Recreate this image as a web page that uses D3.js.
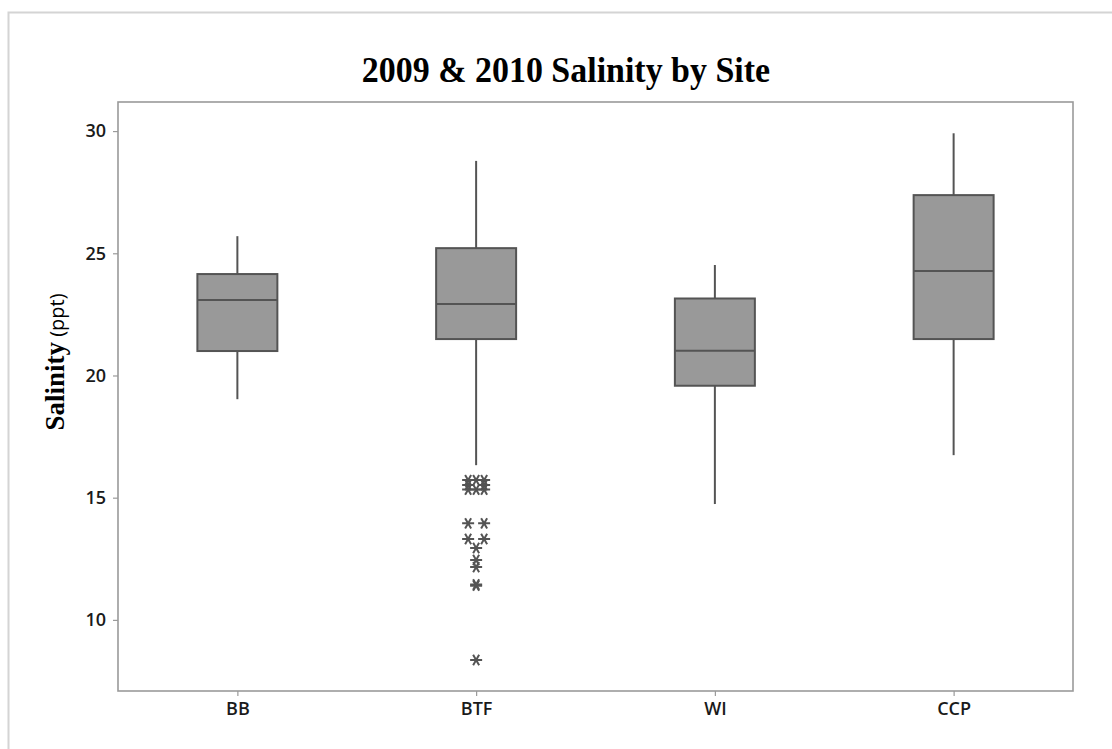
<!DOCTYPE html>
<html>
<head>
<meta charset="utf-8">
<script src="https://cdn.jsdelivr.net/npm/d3@7"></script>
<style>
  html, body { margin: 0; padding: 0; background: #fff; }
  svg { display: block; }
</style>
</head>
<body>
<svg id="chart" width="1112" height="749"></svg>
<script>
// ---- data ----
const sites = ["BB", "BTF", "WI", "CCP"];
const whiskerLow = [19.03, 16.33, 14.74, 16.74];
const q1 = [21.0, 21.49, 19.58, 21.49];
const median = [23.09, 22.92, 21.01, 24.27];
const q3 = [24.15, 25.21, 23.15, 27.38];
const whiskerHigh = [25.70, 28.78, 24.52, 29.91];
const btfOutliers = [15.72, 15.72, 15.72, 15.52, 15.52, 15.33, 15.33, 15.33,
                     13.95, 13.95, 13.31, 13.31, 12.94, 12.45, 12.16, 11.45, 11.40, 8.36];
const yTicks = [10, 15, 20, 25, 30];
const titleText = "2009 & 2010 Salinity by Site";

(function () {
// ---- layout ----
const svg = d3.select("#chart");
const pL = 118, pR = 1073, pT = 102, pB = 691;

const x = d3.scalePoint().domain(sites).range([pL, pR]).padding(0.5);
const y = d3.scaleLinear().domain([7.09, 31.19]).range([pB, pT]);

const dark = "#545454";
const boxFill = "#999999";
const tickFont = "'Open Sans', 'Noto Sans', sans-serif";

// outer frame
svg.append("path")
  .attr("d", `M8.5,749 L8.5,12.5 L1112,12.5`)
  .attr("fill", "none").attr("stroke", "#d4d4d4").attr("stroke-width", 2);

// title
svg.append("text")
  .attr("transform", "translate(566,82) scale(0.97,1)")
  .attr("text-anchor", "middle")
  .attr("font-family", "'Liberation Serif', 'Times New Roman', serif")
  .attr("font-weight", "bold")
  .attr("font-size", 35)
  .attr("fill", "#000")
  .text(titleText);

// plot frame
svg.append("rect")
  .attr("x", pL).attr("y", pT)
  .attr("width", pR - pL).attr("height", pB - pT)
  .attr("fill", "none").attr("stroke", "#9a9a9a").attr("stroke-width", 1.6);

// axes
const yAxis = d3.axisLeft(y).tickValues(yTicks).tickSize(5).tickPadding(7).tickFormat(d3.format("d"));
const gy = svg.append("g").attr("transform", `translate(${pL},0)`).call(yAxis);
gy.select(".domain").remove();
gy.selectAll(".tick line").attr("stroke", "#9a9a9a").attr("stroke-width", 1.2);
gy.selectAll(".tick text")
  .attr("font-family", tickFont)
  .attr("font-weight", 600).attr("font-size", 18).attr("fill", "#1a1a1a");

const xAxis = d3.axisBottom(x).tickSize(5).tickPadding(6);
const gx = svg.append("g").attr("transform", `translate(0,${pB})`).call(xAxis);
gx.select(".domain").remove();
gx.selectAll(".tick line").attr("stroke", "#9a9a9a").attr("stroke-width", 1.2);
gx.selectAll(".tick text")
  .attr("font-family", tickFont)
  .attr("font-weight", 600).attr("font-size", 18).attr("fill", "#1a1a1a");

// y label
const yl = svg.append("text")
  .attr("transform", `translate(64,362) rotate(-90)`)
  .attr("text-anchor", "middle");
yl.append("tspan")
  .attr("font-family", "'Liberation Serif', 'Times New Roman', serif")
  .attr("font-weight", "bold").attr("font-size", 27).attr("fill", "#000")
  .text("Salinity");
yl.append("tspan")
  .attr("font-family", tickFont)
  .attr("font-size", 20).attr("fill", "#000")
  .text(" (ppt)");

// boxes
const bw = x.step() * 0.335;
const boxes = sites.map((s, i) => ({ s, lo: whiskerLow[i], q1: q1[i], med: median[i], q3: q3[i], hi: whiskerHigh[i] }));
const g = svg.append("g");
boxes.forEach(b => {
  const cx = x(b.s);
  g.append("line").attr("x1", cx).attr("x2", cx).attr("y1", y(b.hi)).attr("y2", y(b.q3))
    .attr("stroke", dark).attr("stroke-width", 2);
  g.append("line").attr("x1", cx).attr("x2", cx).attr("y1", y(b.q1)).attr("y2", y(b.lo))
    .attr("stroke", dark).attr("stroke-width", 2);
  g.append("rect").attr("x", cx - bw / 2).attr("width", bw)
    .attr("y", y(b.q3)).attr("height", y(b.q1) - y(b.q3))
    .attr("fill", boxFill).attr("stroke", dark).attr("stroke-width", 2);
  g.append("line").attr("x1", cx - bw / 2).attr("x2", cx + bw / 2)
    .attr("y1", y(b.med)).attr("y2", y(b.med))
    .attr("stroke", dark).attr("stroke-width", 2);
});

// outliers (asterisks); identical values spread side by side
const groups = d3.groups(btfOutliers, v => v);
const r = 6;
const star = [0, 60, 120].map(a => {
  const rad = a * Math.PI / 180;
  const dx = r * Math.cos(rad), dy = r * Math.sin(rad);
  return `M${-dx},${-dy}L${dx},${dy}`;
}).join("");
groups.forEach(([v, arr]) => {
  const n = arr.length;
  arr.forEach((_, k) => {
    const off = n === 1 ? 0 : -8 + 16 * k / (n - 1);
    g.append("path")
      .attr("transform", `translate(${x("BTF") + off},${y(v)})`)
      .attr("d", star).attr("fill", "none")
      .attr("stroke", dark).attr("stroke-width", 2);
  });
});
})();
</script>
</body>
</html>
